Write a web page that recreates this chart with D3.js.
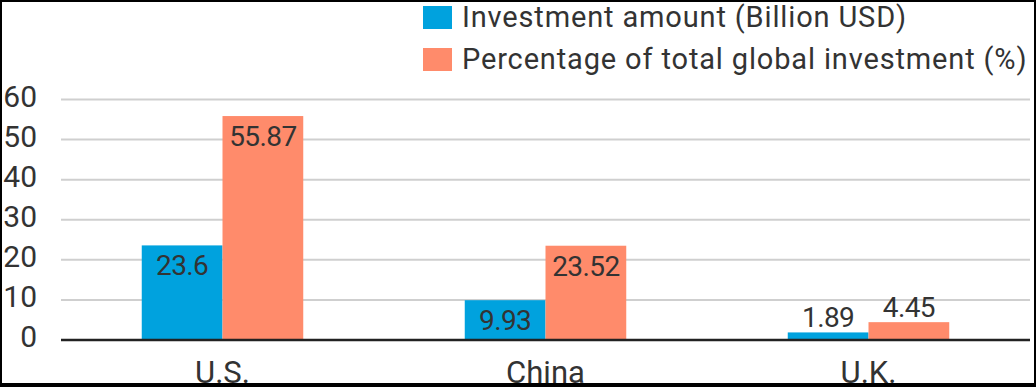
<!DOCTYPE html>
<html>
<head>
<meta charset="utf-8">
<script src="https://cdn.jsdelivr.net/npm/d3@7"></script>
<style>
  html, body { margin: 0; padding: 0; background: #000; }
  svg { display: block; }
  text { font-family: Roboto, "Noto Sans", sans-serif; fill: #333; }
</style>
</head>
<body>
<script>
// chart data
var categories = ["U.S.", "China", "U.K."];
var seriesNames = ["Investment amount (Billion USD)", "Percentage of total global investment (%)"];
var investment = [23.6, 9.93, 1.89];
var percentage = [55.87, 23.52, 4.45];
var yTicks = [0, 10, 20, 30, 40, 50, 60];
var colors = ["#00a2de", "#ff8b6b"];

var W = 1036, H = 387;
var margin = { left: 61 };
var plotW = 1030 - margin.left,
    y0 = 340, y60 = 99.5;

var svg = d3.select("body").append("svg")
    .attr("width", W).attr("height", H);

// white panel inside the black frame
svg.append("rect")
    .attr("x", 2).attr("y", 2)
    .attr("width", W - 4).attr("height", 381)
    .attr("fill", "#fff");

var x = d3.scaleBand()
    .domain(categories)
    .range([margin.left, margin.left + plotW]);

var inner = d3.scaleBand()
    .domain([0, 1])
    .range([x.bandwidth() * 0.25, x.bandwidth() * 0.75]);

var y = d3.scaleLinear()
    .domain([0, 60])
    .range([y0, y60]);

// grid lines
svg.append("g").selectAll("line")
    .data(yTicks.filter(function (d) { return d > 0; }))
    .enter().append("line")
    .attr("x1", margin.left).attr("x2", margin.left + plotW)
    .attr("y1", function (d) { return y(d); })
    .attr("y2", function (d) { return y(d); })
    .attr("stroke", "#cfcfcf").attr("stroke-width", 2);

// y tick labels
svg.append("g").selectAll("text")
    .data(yTicks)
    .enter().append("text")
    .attr("x", 37)
    .attr("y", function (d) { return y(d) + 7; })
    .attr("text-anchor", "end")
    .attr("font-size", 30)
    .text(function (d) { return d; });

// bars
var rows = [];
categories.forEach(function (c, i) {
    rows.push({ cat: c, s: 0, v: investment[i] });
    rows.push({ cat: c, s: 1, v: percentage[i] });
});

svg.append("g").selectAll("rect")
    .data(rows)
    .enter().append("rect")
    .attr("x", function (d) { return x(d.cat) + inner(d.s); })
    .attr("y", function (d) { return y(d.v); })
    .attr("width", inner.bandwidth())
    .attr("height", function (d) { return y0 - y(d.v); })
    .attr("fill", function (d) { return colors[d.s]; });

// value labels: inside top if tall enough, otherwise above
svg.append("g").selectAll("text")
    .data(rows)
    .enter().append("text")
    .attr("x", function (d) { return x(d.cat) + inner(d.s) + inner.bandwidth() / 2; })
    .attr("y", function (d) {
        var top = y(d.v);
        return (y0 - top) > 35 ? top + 30 : top - 5;
    })
    .attr("text-anchor", "middle")
    .attr("font-size", 28)
    .attr("letter-spacing", -0.6)
    .text(function (d) { return d.v; });

// x axis line
svg.append("line")
    .attr("x1", margin.left).attr("x2", margin.left + plotW)
    .attr("y1", y0).attr("y2", y0)
    .attr("stroke", "#222").attr("stroke-width", 2.5);

// category labels (cut by the bottom frame, as in the source)
svg.append("g").selectAll("text")
    .data(categories)
    .enter().append("text")
    .attr("x", function (d) { return x(d) + x.bandwidth() / 2; })
    .attr("y", 383)
    .attr("text-anchor", "middle")
    .attr("font-size", 31)
    .text(function (d) { return d; });

// legend
var legend = svg.append("g").selectAll("g")
    .data(seriesNames)
    .enter().append("g")
    .attr("transform", function (d, i) { return "translate(423," + (i * 42) + ")"; });

legend.append("rect")
    .attr("x", 0).attr("y", 6)
    .attr("width", 29).attr("height", 23)
    .attr("fill", function (d, i) { return colors[i]; });

legend.append("text")
    .attr("x", 39).attr("y", 27)
    .attr("font-size", 29)
    .attr("letter-spacing", 0.85)
    .text(function (d) { return d; });

// black frame on top and bottom
svg.append("rect").attr("x", 0).attr("y", 0).attr("width", W).attr("height", 2).attr("fill", "#000");
svg.append("rect").attr("x", 0).attr("y", 383).attr("width", W).attr("height", 4).attr("fill", "#000");
</script>
</body>
</html>
